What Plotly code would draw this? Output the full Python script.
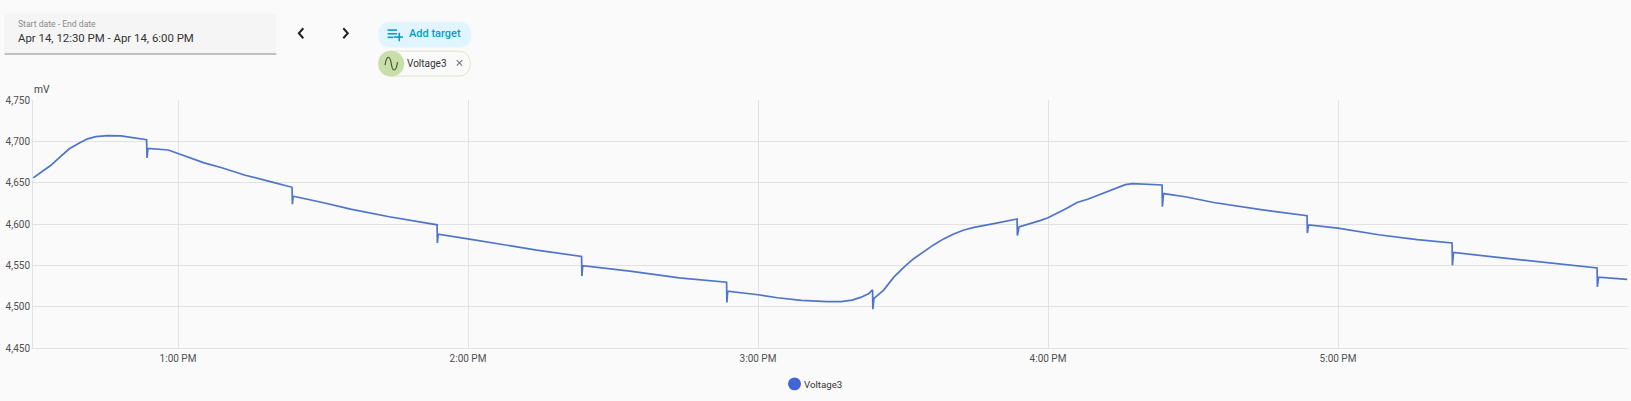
import plotly.graph_objects as go

# readings, clock time on Apr 14 and millivolts
times = ['12:30:04', '12:33:42', '12:35:24', '12:37:30', '12:39:36', '12:41:18', '12:43:00', '12:45:24', '12:48:12', '12:50:18', '12:53:30',
         '12:53:36', '12:53:46', '12:58:00', '13:00:36', '13:05:24', '13:08:54', '13:13:54', '13:19:42', '13:23:36',
         '13:23:40', '13:23:50', '13:29:54', '13:35:42', '13:43:42', '13:53:36',
         '13:53:40', '13:53:50', '14:00:00', '14:06:54', '14:14:12', '14:23:30',
         '14:23:34', '14:23:44', '14:33:30', '14:43:42', '14:53:30',
         '14:53:34', '14:53:44', '15:00:00', '15:04:00', '15:09:00', '15:12:00', '15:14:18', '15:17:12', '15:19:30', '15:21:12', '15:22:54', '15:23:42',
         '15:23:46', '15:24:00', '15:26:00', '15:28:06', '15:30:12', '15:32:12', '15:34:18', '15:36:24', '15:38:24', '15:40:30', '15:42:36', '15:44:42', '15:48:48', '15:53:36',
         '15:53:40', '15:54:00', '15:58:30', '16:00:00', '16:03:48', '16:06:00', '16:08:12', '16:11:42', '16:14:00', '16:16:00', '16:17:30', '16:21:00', '16:23:36',
         '16:23:40', '16:23:54', '16:28:24', '16:34:18', '16:44:24', '16:53:36',
         '16:53:40', '16:53:54', '17:00:00', '17:08:24', '17:16:24', '17:23:36',
         '17:23:40', '17:23:54', '17:34:00', '17:44:00', '17:53:36',
         '17:53:40', '17:53:54', '17:59:50']
voltage = [4656, 4671, 4680, 4691, 4698, 4703, 4705.6, 4707, 4706.5, 4705, 4702,
           4680, 4691.5, 4689.5, 4684, 4674, 4668.4, 4659, 4650.4, 4644.4,
           4624, 4633.6, 4626, 4618, 4608.8, 4599,
           4577, 4587.6, 4582, 4575.6, 4568.4, 4560.8,
           4537, 4549.6, 4543, 4534.8, 4529.6,
           4505, 4518.8, 4514.4, 4510.8, 4507.6, 4506.5, 4506, 4506, 4508, 4511.2, 4515.7, 4520.5,
           4497, 4510, 4520, 4535.7, 4547.8, 4558, 4567, 4575, 4582, 4588, 4592.8, 4596, 4600.4, 4606,
           4586, 4596.4, 4604.4, 4607.6, 4618.8, 4626, 4630, 4638, 4644, 4647.6, 4648.8, 4648.4, 4647.2,
           4621, 4636.8, 4633, 4626, 4617, 4610,
           4589, 4599, 4595, 4587, 4581, 4577,
           4550, 4565.6, 4559, 4552.4, 4546.8,
           4524, 4535.6, 4533]

y_ticks = [4450, 4500, 4550, 4600, 4650, 4700, 4750]
x_ticks = ['13:00', '14:00', '15:00', '16:00', '17:00']
x_labels = ['1:00 PM', '2:00 PM', '3:00 PM', '4:00 PM', '5:00 PM']
day = '2024-04-14 '

W, H = 1631, 401
grid = '#e2e2e2'
text_col = '#505050'
blue = '#0a9cc4'

# plot area in page pixels, the controls above the chart go through these
left, right, top, bottom = 32.5, 1628.5, 99.5, 348.5

def fx(x):
    return (x - left) / (right - left)

def fy(y):
    return (bottom - y) / (bottom - top)

def rounded(x0, y0, x1, y1, r):
    return (f'M{fx(x0 + r)},{fy(y0)} L{fx(x1 - r)},{fy(y0)} Q{fx(x1)},{fy(y0)} {fx(x1)},{fy(y0 + r)} '
            f'L{fx(x1)},{fy(y1 - r)} Q{fx(x1)},{fy(y1)} {fx(x1 - r)},{fy(y1)} '
            f'L{fx(x0 + r)},{fy(y1)} Q{fx(x0)},{fy(y1)} {fx(x0)},{fy(y1 - r)} '
            f'L{fx(x0)},{fy(y0 + r)} Q{fx(x0)},{fy(y0)} {fx(x0 + r)},{fy(y0)} Z')

def poly(*pts):
    return 'M' + ' L'.join(f'{fx(a)},{fy(b)}' for a, b in pts)

def stroke(color, width, *pts):
    return dict(type='path', path=poly(*pts), line=dict(color=color, width=width))

def label(text, x, y, size, color, anchor='left', weight=None):
    return dict(text=text, xref='paper', yref='paper', x=fx(x), y=fy(y), xanchor=anchor, yanchor='middle',
                showarrow=False, font=dict(family='Roboto', size=size, color=color, weight=weight))

fig = go.Figure()
fig.add_trace(go.Scatter(x=[day + t for t in times], y=voltage, mode='lines',
                         line=dict(color='#4f74c9', width=1.7), showlegend=False))

shapes = [
    dict(type='path', path=rounded(4, 12.5, 276, 53, 3), fillcolor='#f5f5f5', line_width=0),
    stroke('#8a8a8a', 1, (4, 53.3), (276, 53.3)),
    dict(type='path', path=rounded(378, 21, 471, 46.7, 12.8), fillcolor='#e1f5fe', line_width=0),
    dict(type='path', path=rounded(378.5, 50.5, 470, 75.5, 12.5), fillcolor='#fafafa',
         line=dict(color='#dde7c8', width=1)),
    dict(type='circle', x0=fx(378), x1=fx(404), y0=fy(76), y1=fy(50), fillcolor='#c9dfaa', line_width=0),
    # sine icon
    dict(type='path', path=(f'M{fx(384.7)},{fy(64.5)} C{fx(386.5)},{fy(53.5)} {fx(389.8)},{fy(55)} {fx(391)},{fy(63)} '
                            f'C{fx(392.2)},{fy(71)} {fx(395.5)},{fy(72.5)} {fx(397.3)},{fy(61.5)}'),
         line=dict(color='#4d5a3a', width=1.2)),
    # chevrons
    stroke('#222222', 2, (303, 27.5), (298.5, 32.5), (303, 37.5)),
    stroke('#222222', 2, (343, 27.5), (347.5, 32.5), (343, 37.5)),
    # add target icon
    stroke(blue, 1.6, (387.3, 29.3), (396.7, 29.3)),
    stroke(blue, 1.6, (387.3, 33), (396.7, 33)),
    stroke(blue, 1.6, (387.3, 36.6), (392.7, 36.6)),
    stroke(blue, 1.6, (393.3, 36.3), (402.7, 36.3)),
    stroke(blue, 1.6, (399, 32), (399, 40.5)),
    # chip close
    stroke('#777777', 1.1, (456.5, 59.5), (462, 65)),
    stroke('#777777', 1.1, (462, 59.5), (456.5, 65)),
    # legend dot
    dict(type='circle', x0=fx(788), x1=fx(801), y0=fy(391), y1=fy(378), fillcolor='#3f66d4', line_width=0),
]
for s in shapes:
    s['xref'] = 'paper'
    s['yref'] = 'paper'

annotations = [
    label('Start date - End date', 15.2, 23, 8.6, '#8a8a8a'),
    label('Apr 14, 12:30 PM - Apr 14, 6:00 PM', 15.5, 37, 11.4, '#333333'),
    label('Add target', 406.8, 33, 11, blue, weight=500),
    label('Voltage3', 405, 62.5, 10, '#333333'),
    label('mV', 31.5, 88.5, 10.3, '#444444'),
    label('Voltage3', 801.5, 385, 9.7, '#333333'),
]

fig.update_layout(
    width=W, height=H, autosize=False,
    margin=dict(l=left, r=W - right, t=top, b=H - bottom, pad=0),
    paper_bgcolor='#fafafa', plot_bgcolor='#fafafa',
    font=dict(family='Roboto', size=10, color=text_col),
    shapes=shapes, annotations=annotations,
    showlegend=False,
    xaxis=dict(type='date', range=[day + '12:30', day + '18:00'],
               tickvals=[day + t for t in x_ticks], ticktext=x_labels,
               showgrid=True, gridcolor=grid, gridwidth=1, zeroline=False,
               showline=True, linecolor=grid, ticks='', ticklabelstandoff=1),
    yaxis=dict(range=[4450, 4750], tickvals=y_ticks, tickformat=',',
               showgrid=True, gridcolor=grid, gridwidth=1, zeroline=False,
               showline=True, linecolor=grid, ticks=''),
)

fig.write_html('out.html', config={'displayModeBar': False},
               post_script="document.body.style.margin='0';document.body.style.overflow='hidden';")
